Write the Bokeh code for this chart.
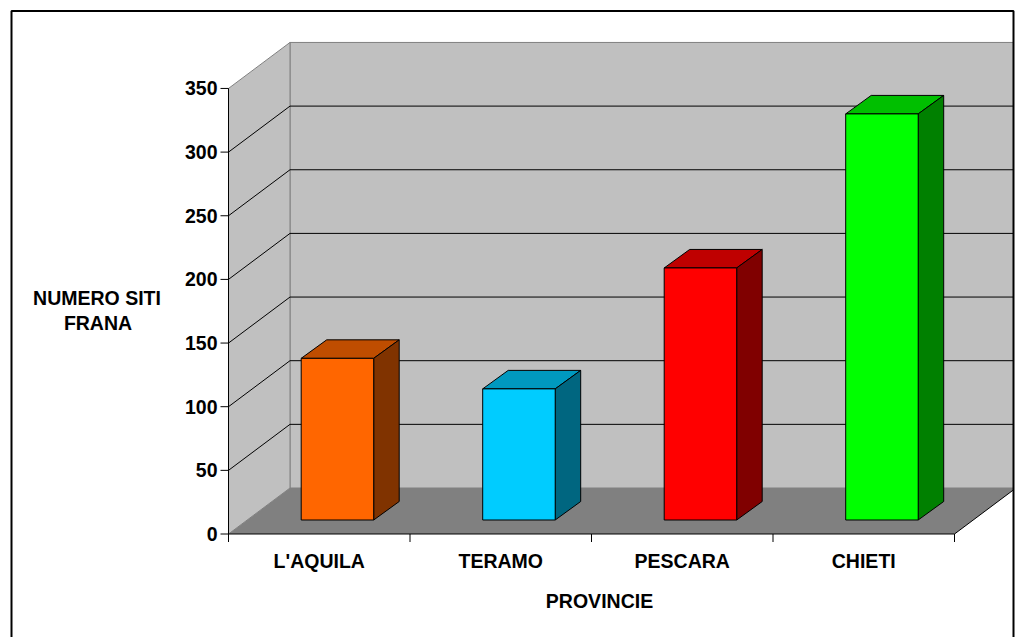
from bokeh.plotting import figure
from bokeh.models import BoxAnnotation, Range1d
from bokeh.core.properties import value
from bokeh.embed import file_html
from bokeh.resources import INLINE

# Landslide sites per province
provinces = ["L'AQUILA", "TERAMO", "PESCARA", "CHIETI"]
sites = [127, 103, 198, 319]
front_colors = ["#FF6600", "#00CCFF", "#FF0000", "#00FF00"]
top_colors = ["#BF4D00", "#0099BF", "#BF0000", "#00BF00"]
side_colors = ["#803300", "#006680", "#800000", "#008000"]
value_ticks = [0, 50, 100, 150, 200, 250, 300, 350]
value_title = ["NUMERO SITI", "FRANA"]
category_title = "PROVINCIE"

W, H = 1019, 637
ORIGIN_X, ORIGIN_Y = 228, 533.5     # where the two axes meet on the page
PX_X = 181.5                        # pixels per category
PX_Y = 1.273                        # pixels per unit of value
FONT = value("Liberation Sans")
FONT_SIZE = "19.5px"

# Oblique projection: depth offsets in data units
DEPTH_X, DEPTH_Y = 61.5 / PX_X, 46 / PX_Y
BAR_DX, BAR_DY = 25.5 / PX_X, 18.5 / PX_Y
BAR_W = 72.5 / PX_X
BAR_OFF_X, BAR_OFF_Y = 72.7 / PX_X, 14 / PX_Y

n = len(provinces)
top_val = value_ticks[-1]
wall_end = n + DEPTH_X

p = figure(width=W, height=H, output_backend="svg", toolbar_location=None,
           x_range=Range1d(-ORIGIN_X / PX_X, (W - ORIGIN_X) / PX_X),
           y_range=Range1d(-(H - ORIGIN_Y) / PX_Y, ORIGIN_Y / PX_Y),
           x_axis_location=None, y_axis_location=None,
           min_border=0, outline_line_color=None)
p.grid.visible = False

# Back wall, side wall and floor
p.patch([DEPTH_X, wall_end, wall_end, DEPTH_X],
        [DEPTH_Y, DEPTH_Y, DEPTH_Y + top_val, DEPTH_Y + top_val],
        fill_color="#C0C0C0", line_color="#808080", line_width=1)
p.patch([0, DEPTH_X, DEPTH_X, 0], [0, DEPTH_Y, DEPTH_Y + top_val, top_val],
        fill_color="#C0C0C0", line_color="#808080", line_width=1)
p.patch([0, n, wall_end, DEPTH_X], [0, 0, DEPTH_Y, DEPTH_Y],
        fill_color="#808080", line_color=None)
p.line([n, wall_end], [0, DEPTH_Y], line_color="black", line_width=1)

# Grid lines running across both walls
inner = value_ticks[1:-1]
p.segment([0] * len(inner), inner,
          [DEPTH_X] * len(inner), [v + DEPTH_Y for v in inner],
          line_color="black", line_width=1)
p.segment([DEPTH_X] * len(inner), [v + DEPTH_Y for v in inner],
          [wall_end] * len(inner), [v + DEPTH_Y for v in inner],
          line_color="black", line_width=1)

# Each bar is drawn as its top, side and front faces
for i, v in enumerate(sites):
    x0 = i + BAR_OFF_X
    x1 = x0 + BAR_W
    b = BAR_OFF_Y
    t = BAR_OFF_Y + v
    p.patch([x0, x1, x1 + BAR_DX, x0 + BAR_DX], [t, t, t + BAR_DY, t + BAR_DY],
            fill_color=top_colors[i], line_color="black", line_width=1)
    p.patch([x1, x1 + BAR_DX, x1 + BAR_DX, x1], [b, b + BAR_DY, t + BAR_DY, t],
            fill_color=side_colors[i], line_color="black", line_width=1)
    p.patch([x0, x1, x1, x0], [b, b, t, t],
            fill_color=front_colors[i], line_color="black", line_width=1)

# Value axis: line, outward ticks and numbers
TICK = 8
p.line([0, 0], [0, top_val], line_color="black", line_width=1)
p.segment([-TICK / PX_X] * len(value_ticks), value_ticks,
          [0] * len(value_ticks), value_ticks, line_color="black", line_width=1)
p.text([0] * len(value_ticks), value_ticks, text=[str(v) for v in value_ticks],
       x_offset=-11, text_align="right", text_baseline="middle", text_font=FONT,
       text_font_style="bold", text_font_size=FONT_SIZE, text_color="black")

# Category axis: line, ticks at the boundaries, names at the centres
bounds = list(range(n + 1))
p.line([0, n], [0, 0], line_color="black", line_width=1)
p.segment(bounds, [0] * len(bounds), bounds, [-TICK / PX_Y] * len(bounds),
          line_color="black", line_width=1)
p.text([i + 0.5 for i in range(n)], [0] * n, text=provinces,
       y_offset=27, text_align="center", text_baseline="middle", text_font=FONT,
       text_font_style="bold", text_font_size=FONT_SIZE, text_color="black")

# Axis titles
p.text([(599 - ORIGIN_X) / PX_X], [0], text=[category_title],
       y_offset=67, text_align="center", text_baseline="middle", text_font=FONT,
       text_font_style="bold", text_font_size=FONT_SIZE, text_color="black")
p.text([(96.5 - ORIGIN_X) / PX_X, (97.5 - ORIGIN_X) / PX_X],
       [(ORIGIN_Y - 297) / PX_Y, (ORIGIN_Y - 322) / PX_Y], text=value_title,
       text_align="center", text_baseline="middle", text_font=FONT,
       text_font_style="bold", text_font_size=FONT_SIZE, text_color="black")

# White margin past the right edge, then the chart border, open along the page bottom
p.add_layout(BoxAnnotation(left=1013, right=W, top=H, bottom=0,
                           left_units="screen", right_units="screen",
                           top_units="screen", bottom_units="screen",
                           fill_color="white", fill_alpha=1, line_color=None))
p.add_layout(BoxAnnotation(left=11, right=1013, top=H - 10.5, bottom=-10,
                           left_units="screen", right_units="screen",
                           top_units="screen", bottom_units="screen",
                           fill_color=None, line_color="black", line_alpha=1, line_width=2))

open("out.html", "w").write(file_html(p, INLINE))
